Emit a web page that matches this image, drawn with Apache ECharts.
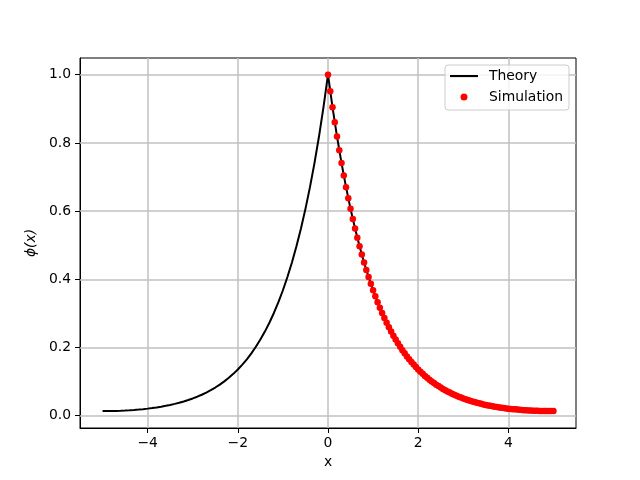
<!DOCTYPE html>
<html>
<head>
<meta charset="utf-8">
<script src="https://cdn.jsdelivr.net/npm/echarts@6/dist/echarts.min.js"></script>
<style>
html,body{margin:0;padding:0;background:#fff;}
#chart{width:640px;height:480px;}
</style>
</head>
<body>
<div id="chart"></div>
<script>
// ---- data ----
var theoryX = [-5.0,-4.9,-4.8,-4.7,-4.6,-4.5,-4.4,-4.3,-4.2,-4.1,
  -4.0,-3.9,-3.8,-3.7,-3.6,-3.5,-3.4,-3.3,-3.2,-3.1,
  -3.0,-2.9,-2.8,-2.7,-2.6,-2.5,-2.4,-2.3,-2.2,-2.1,
  -2.0,-1.9,-1.8,-1.7,-1.6,-1.5,-1.4,-1.3,-1.2,-1.1,
  -1.0,-0.9,-0.8,-0.7,-0.6,-0.5,-0.4,-0.3,-0.2,-0.1,
  0.0,
  0.1,0.2,0.3,0.4,0.5,0.6,0.7,0.8,0.9,1.0,
  1.1,1.2,1.3,1.4,1.5,1.6,1.7,1.8,1.9,2.0,
  2.1,2.2,2.3,2.4,2.5,2.6,2.7,2.8,2.9,3.0,
  3.1,3.2,3.3,3.4,3.5,3.6,3.7,3.8,3.9,4.0,
  4.1,4.2,4.3,4.4,4.5,4.6,4.7,4.8,4.9,5.0];
var theoryY = [0.0135,0.0135,0.0137,0.0141,0.0146,0.0152,0.0160,0.0169,0.0180,0.0193,
  0.0208,0.0224,0.0244,0.0265,0.0290,0.0317,0.0348,0.0381,0.0419,0.0460,
  0.0507,0.0558,0.0615,0.0679,0.0749,0.0827,0.0911,0.1007,0.1111,0.1228,
  0.1356,0.1499,0.1655,0.1829,0.2021,0.2233,0.2467,0.2726,0.3013,0.3330,
  0.3680,0.4067,0.4494,0.4967,0.5489,0.6066,0.6703,0.7408,0.8187,0.9048,
  1.0000,
  0.9048,0.8187,0.7408,0.6703,0.6066,0.5489,0.4967,0.4494,0.4067,0.3680,
  0.3330,0.3013,0.2726,0.2467,0.2233,0.2021,0.1829,0.1655,0.1499,0.1356,
  0.1228,0.1111,0.1007,0.0911,0.0827,0.0749,0.0679,0.0615,0.0558,0.0507,
  0.0460,0.0419,0.0381,0.0348,0.0317,0.0290,0.0265,0.0244,0.0224,0.0208,
  0.0193,0.0180,0.0169,0.0160,0.0152,0.0146,0.0141,0.0137,0.0135,0.0135];
var simX = [0.00,0.05,0.10,0.15,0.20,0.25,0.30,0.35,0.40,0.45,
  0.50,0.55,0.60,0.65,0.70,0.75,0.80,0.85,0.90,0.95,
  1.00,1.05,1.10,1.15,1.20,1.25,1.30,1.35,1.40,1.45,
  1.50,1.55,1.60,1.65,1.70,1.75,1.80,1.85,1.90,1.95,
  2.00,2.05,2.10,2.15,2.20,2.25,2.30,2.35,2.40,2.45,
  2.50,2.55,2.60,2.65,2.70,2.75,2.80,2.85,2.90,2.95,
  3.00,3.05,3.10,3.15,3.20,3.25,3.30,3.35,3.40,3.45,
  3.50,3.55,3.60,3.65,3.70,3.75,3.80,3.85,3.90,3.95,
  4.00,4.05,4.10,4.15,4.20,4.25,4.30,4.35,4.40,4.45,
  4.50,4.55,4.60,4.65,4.70,4.75,4.80,4.85,4.90,4.95,
  5.00];
var simY = [1.0000,0.9512,0.9048,0.8607,0.8187,0.7788,0.7408,0.7047,0.6703,0.6376,
  0.6066,0.5770,0.5489,0.5221,0.4967,0.4725,0.4494,0.4275,0.4067,0.3868,
  0.3680,0.3500,0.3330,0.3167,0.3013,0.2866,0.2726,0.2593,0.2467,0.2347,
  0.2233,0.2124,0.2021,0.1922,0.1829,0.1740,0.1655,0.1575,0.1499,0.1426,
  0.1356,0.1290,0.1228,0.1168,0.1111,0.1058,0.1007,0.0958,0.0911,0.0868,
  0.0827,0.0787,0.0749,0.0713,0.0679,0.0646,0.0615,0.0586,0.0558,0.0531,
  0.0507,0.0483,0.0460,0.0439,0.0419,0.0399,0.0381,0.0364,0.0348,0.0332,
  0.0317,0.0303,0.0290,0.0277,0.0265,0.0254,0.0244,0.0234,0.0224,0.0215,
  0.0208,0.0200,0.0193,0.0187,0.0180,0.0175,0.0169,0.0164,0.0160,0.0156,
  0.0152,0.0149,0.0146,0.0144,0.0141,0.0139,0.0137,0.0136,0.0135,0.0135,
  0.0135];
var xTicks = [-4, -2, 0, 2, 4];
var yTicks = [0, 0.2, 0.4, 0.6, 0.8, 1.0];
var seriesNames = ['Theory', 'Simulation'];

// ---- chart ----
var FONT = 'DejaVu Sans';
var chart = echarts.init(document.getElementById('chart'), null, {renderer: 'canvas'});

function pairs(xs, ys) {
  var out = [];
  for (var i = 0; i < xs.length; i++) out.push([xs[i], ys[i]]);
  return out;
}

var gridLines = [];
xTicks.forEach(function (v) { gridLines.push({xAxis: v}); });
yTicks.forEach(function (v) { gridLines.push({yAxis: v}); });

// legend icon for the line: a thin band in the middle of a 28x7 box
var lineIcon = 'path://M0,0 M28,7 M0,2.5 L28,2.5 L28,4.6 L0,4.6 Z';

var option = {
  animation: false,
  backgroundColor: '#ffffff',
  textStyle: {fontFamily: FONT},
  grid: {
    left: 80, right: 64, top: 58, bottom: 52,
    show: true, borderColor: '#000', borderWidth: 1, backgroundColor: 'transparent'
  },
  legend: {
    orient: 'vertical',
    left: 445, top: 65,
    data: [{name: seriesNames[0], icon: lineIcon}, {name: seriesNames[1], icon: 'circle'}],
    itemWidth: 28, itemHeight: 7, itemGap: 5,
    padding: [3, 6, 5, 5],
    backgroundColor: 'rgba(255,255,255,0.8)',
    borderColor: '#cccccc', borderWidth: 1, borderRadius: 3,
    textStyle: {fontFamily: FONT, fontSize: 13.9, color: '#000', lineHeight: 16, padding: [0, 0, 0, 6]},
    selectedMode: false
  },
  xAxis: {
    type: 'value', min: -5.5, max: 5.5,
    name: 'x', nameLocation: 'middle', nameGap: 27,
    nameTextStyle: {fontFamily: FONT, fontSize: 13.9, color: '#000'},
    axisLine: {show: true, onZero: false, lineStyle: {color: '#000', width: 1}},
    axisTick: {show: true, inside: false, length: 5, customValues: xTicks, lineStyle: {color: '#000', width: 1}},
    axisLabel: {
      show: true, customValues: xTicks, margin: 8, color: '#000', fontFamily: FONT, fontSize: 13.9,
      formatter: function (v) { return String(v).replace('-', '\u2212'); }
    },
    splitLine: {show: false}
  },
  yAxis: {
    type: 'value', min: -0.036, max: 1.049,
    name: '{i|ϕ}(x)', nameLocation: 'middle', nameGap: 38, nameRotate: 90,
    nameTextStyle: {fontFamily: FONT, fontSize: 13.9, color: '#000', fontStyle: 'italic',
      rich: {i: {fontFamily: FONT, fontSize: 13.9, color: '#000', fontStyle: 'italic'}}},
    axisLine: {show: true, onZero: false, lineStyle: {color: '#000', width: 1}},
    axisTick: {show: true, inside: false, length: 5, customValues: yTicks, lineStyle: {color: '#000', width: 1}},
    axisLabel: {
      show: true, customValues: yTicks, margin: 9, color: '#000', fontFamily: FONT, fontSize: 13.9,
      formatter: function (v) { return v.toFixed(1); }
    },
    splitLine: {show: false}
  },
  series: [
    {
      name: 'grid', type: 'line', data: [], z: 1, silent: true,
      markLine: {
        silent: true, z: 1, symbol: ['none', 'none'], animation: false,
        label: {show: false},
        lineStyle: {color: '#c0c0c0', width: 1.5, type: 'solid'},
        emphasis: {disabled: true},
        data: gridLines
      }
    },
    {
      name: seriesNames[0], type: 'line', z: 3,
      data: pairs(theoryX, theoryY),
      showSymbol: false, symbol: 'none', smooth: false,
      lineStyle: {color: '#000000', width: 2},
      itemStyle: {color: '#000000'}
    },
    {
      name: seriesNames[1], type: 'scatter', z: 4,
      data: pairs(simX, simY),
      symbol: 'circle', symbolSize: 6.5,
      itemStyle: {color: '#ff0000', opacity: 1}
    }
  ]
};
chart.setOption(option);
</script>
</body>
</html>
